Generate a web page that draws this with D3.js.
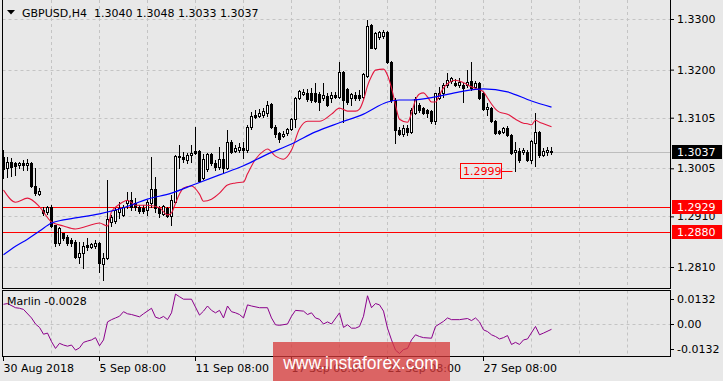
<!DOCTYPE html>
<html>
<head>
<meta charset="utf-8">
<script src="https://cdn.jsdelivr.net/npm/d3@7"></script>
<style>
  body { margin: 0; background: #e8e8e8; }
  svg { display: block; font-family: "DejaVu Sans", sans-serif; font-size: 11px; }
</style>
</head>
<body>
<svg id="chart" width="723" height="381"></svg>
<script>
// GBPUSD H4 candles, one per bar (bar 0 = 30 Aug 2018 08:00)
const openP = [
  1.3027,1.3006,1.3017,1.3015,1.3012,1.3015,1.3012,1.3015,1.2970,1.2954,
  1.2923,1.2919,1.2929,1.2893,1.2857,1.2877,1.2869,1.2863,1.2859,1.2830,
  1.2838,1.2853,1.2849,1.2851,1.2857,1.2816,1.2828,1.2899,1.2901,1.2919,
  1.2913,1.2936,1.2942,1.2936,1.2929,1.2927,1.2923,1.2936,1.2964,1.2927,
  1.2915,1.2927,1.2911,1.2938,1.3029,1.3027,1.3021,1.3031,1.3039,1.3039,
  1.2986,1.3004,1.3033,1.3015,1.3008,1.3023,1.3006,1.3057,1.3039,1.3041,
  1.3045,1.3041,1.3087,1.3110,1.3108,1.3110,1.3114,1.3132,1.3087,1.3075,
  1.3069,1.3075,1.3083,1.3102,1.3144,1.3152,1.3154,1.3154,1.3154,1.3152,
  1.3144,1.3148,1.3144,1.3150,1.3146,1.3195,1.3162,1.3144,1.3150,1.3150,
  1.3146,1.3187,1.3288,1.3243,1.3264,1.3266,1.3274,1.3215,1.3140,1.3081,
  1.3073,1.3085,1.3077,1.3114,1.3130,1.3124,1.3120,1.3118,1.3098,1.3144,
  1.3154,1.3170,1.3177,1.3174,1.3170,1.3170,1.3170,1.3177,1.3166,1.3174,
  1.3154,1.3122,1.3124,1.3098,1.3079,1.3077,1.3085,1.3071,1.3037,1.3039,
  1.3037,1.3037,1.3021,1.3055,1.3077,1.3031,1.3037,1.3040
];
const highP = [
  1.3041,1.3027,1.3025,1.3017,1.3017,1.3021,1.3023,1.3017,1.3006,1.2966,
  1.2929,1.2930,1.2932,1.2893,1.2889,1.2877,1.2873,1.2867,1.2863,1.2859,
  1.2859,1.2867,1.2857,1.2863,1.2859,1.2838,1.2982,1.2913,1.2929,1.2938,
  1.2932,1.2958,1.2958,1.2946,1.2932,1.2932,1.2942,1.3027,1.2988,1.2930,
  1.2932,1.2929,1.2952,1.3031,1.3051,1.3037,1.3035,1.3051,1.3087,1.3041,
  1.3033,1.3035,1.3035,1.3021,1.3047,1.3037,1.3081,1.3061,1.3051,1.3055,
  1.3057,1.3091,1.3116,1.3120,1.3122,1.3124,1.3138,1.3134,1.3091,1.3077,
  1.3079,1.3085,1.3104,1.3146,1.3160,1.3162,1.3162,1.3164,1.3174,1.3156,
  1.3174,1.3154,1.3156,1.3156,1.3215,1.3197,1.3164,1.3154,1.3156,1.3160,
  1.3193,1.3298,1.3290,1.3274,1.3276,1.3278,1.3276,1.3217,1.3144,1.3087,
  1.3091,1.3091,1.3124,1.3146,1.3134,1.3126,1.3122,1.3120,1.3154,1.3166,
  1.3174,1.3193,1.3185,1.3181,1.3183,1.3174,1.3199,1.3215,1.3177,1.3176,
  1.3156,1.3134,1.3126,1.3100,1.3081,1.3087,1.3089,1.3073,1.3057,1.3045,
  1.3045,1.3041,1.3061,1.3114,1.3079,1.3045,1.3047,1.3048
];
const lowP = [
  1.2986,1.2988,1.2990,1.2992,1.3006,1.3002,1.3002,1.2968,1.2952,1.2952,
  1.2913,1.2915,1.2889,1.2851,1.2853,1.2863,1.2853,1.2851,1.2828,1.2818,
  1.2808,1.2844,1.2847,1.2847,1.2800,1.2784,1.2826,1.2891,1.2897,1.2907,
  1.2911,1.2927,1.2923,1.2923,1.2917,1.2917,1.2913,1.2929,1.2919,1.2909,
  1.2913,1.2909,1.2893,1.2936,1.3006,1.3017,1.3015,1.3017,1.3033,1.2978,
  1.2984,1.3000,1.3012,1.3002,1.3004,1.2996,1.3004,1.3035,1.3037,1.3037,
  1.3025,1.3037,1.3083,1.3104,1.3106,1.3106,1.3108,1.3085,1.3067,1.3057,
  1.3067,1.3071,1.3081,1.3087,1.3142,1.3150,1.3138,1.3136,1.3136,1.3120,
  1.3140,1.3128,1.3136,1.3144,1.3144,1.3096,1.3132,1.3130,1.3140,1.3140,
  1.3144,1.3185,1.3243,1.3241,1.3260,1.3262,1.3213,1.3136,1.3055,1.3071,
  1.3069,1.3071,1.3075,1.3112,1.3116,1.3112,1.3106,1.3094,1.3093,1.3142,
  1.3146,1.3166,1.3174,1.3168,1.3166,1.3136,1.3166,1.3160,1.3164,1.3142,
  1.3120,1.3110,1.3096,1.3073,1.3073,1.3075,1.3069,1.3033,1.2999,1.3017,
  1.3033,1.3019,1.3015,1.3010,1.3027,1.3029,1.3031,1.3033
];
const closeP = [
  1.3004,1.3017,1.3008,1.3010,1.3015,1.3012,1.3015,1.2970,1.2956,1.2960,
  1.2917,1.2929,1.2891,1.2857,1.2887,1.2867,1.2857,1.2857,1.2830,1.2838,
  1.2851,1.2849,1.2855,1.2857,1.2818,1.2828,1.2905,1.2909,1.2923,1.2927,
  1.2929,1.2942,1.2929,1.2929,1.2921,1.2921,1.2938,1.2964,1.2927,1.2917,
  1.2930,1.2911,1.2942,1.3029,1.3027,1.3023,1.3031,1.3035,1.3035,1.2980,
  1.3023,1.3033,1.3015,1.3008,1.3023,1.3006,1.3057,1.3037,1.3045,1.3047,
  1.3041,1.3087,1.3108,1.3106,1.3114,1.3118,1.3130,1.3087,1.3073,1.3063,
  1.3073,1.3083,1.3102,1.3144,1.3158,1.3156,1.3142,1.3140,1.3138,1.3136,
  1.3150,1.3130,1.3150,1.3146,1.3195,1.3140,1.3136,1.3152,1.3144,1.3144,
  1.3191,1.3286,1.3243,1.3272,1.3274,1.3274,1.3215,1.3140,1.3081,1.3073,
  1.3085,1.3077,1.3120,1.3142,1.3120,1.3114,1.3114,1.3098,1.3154,1.3154,
  1.3170,1.3179,1.3183,1.3170,1.3176,1.3164,1.3176,1.3164,1.3174,1.3144,
  1.3122,1.3126,1.3098,1.3075,1.3075,1.3085,1.3071,1.3035,1.3041,1.3021,
  1.3041,1.3021,1.3059,1.3077,1.3031,1.3039,1.3041,1.3037
];

// moving averages (bar index -> price)
const redBars = [0,3,6,9,12,15,18,21,24,26,27,29,31,33,36,39,41,42,43,44,45,47,49,50,52,54,56,58,60,61,
  63,65,66,68,70,72,74,76,79,82,84,86,88,89,90,91,92,93,95,96,97,98,99,101,102,103,104,105,106,107,108,
  109,110,111,113,115,117,119,120,121,122,123,124,126,128,130,131,132,133,134,135,137];
const redMA = [1.2962,1.2938,1.2946,1.2929,1.2899,1.2891,1.2885,1.2891,1.2897,1.2891,1.2919,1.2934,1.2942,1.2932,1.2932,1.2927,1.2913,1.2917,1.2936,1.2954,
  1.2966,1.2970,1.2954,1.2940,1.2944,1.2956,1.2972,1.2976,1.2978,1.2994,
  1.3023,1.3039,1.3043,1.3029,1.3023,1.3041,1.3083,1.3098,1.3098,1.3112,1.3124,1.3118,1.3118,1.3122,1.3140,1.3168,1.3187,1.3199,1.3201,1.3189,
  1.3164,1.3130,1.3102,1.3096,1.3114,1.3140,1.3152,1.3154,1.3146,1.3136,1.3136,
  1.3150,1.3164,1.3172,1.3179,1.3174,1.3166,1.3160,1.3156,1.3144,1.3132,1.3122,1.3116,1.3112,1.3102,1.3094,1.3093,1.3091,1.3100,1.3096,1.3093,1.3087];
const blueBars = [0,3,6,9,12,15,18,24,30,36,42,48,54,60,66,72,78,84,90,96,99,102,108,114,120,126,132,137];
const blueMA = [1.2834,1.2851,1.2865,1.2881,1.2897,1.2903,1.2907,1.2915,1.2927,1.2944,1.2956,1.2974,1.2992,1.3010,
  1.3033,1.3053,1.3077,1.3095,1.3112,1.3136,1.3140,1.3140,1.3146,1.3156,1.3162,1.3156,1.3138,1.3126];

// Marlin oscillator
const marlinBars = [0,1,3,4,5,7,8,9,10,11,12,13,14,15,16,17,18,19,20,21,22,23,24,25,26,27,28,29,30,31,32,34,35,37,38,39,40,41,42,43,44,45,47,
  49,50,51,52,53,54,55,56,57,58,59,60,61,62,64,66,67,68,69,71,72,73,75,76,77,78,79,80,81,82,84,85,86,87,88,89,90,
  91,92,93,94,95,96,97,98,99,100,101,102,103,104,105,107,108,110,111,112,114,116,117,118,119,120,121,122,123,124,125,
  126,127,128,129,130,131,133,134,135,137];
const marlin = [0.0104,0.0108,0.0086,0.0083,0.0077,0.0032,0.0000,-0.0018,-0.0054,-0.0048,-0.0093,-0.0129,-0.0102,-0.0111,-0.0117,-0.0111,
  -0.0138,-0.0126,-0.0097,-0.0090,-0.0084,-0.0072,-0.0115,-0.0084,0.0011,0.0023,0.0032,0.0041,0.0065,0.0054,0.0050,0.0038,0.0054,0.0083,
  0.0036,0.0029,0.0040,0.0023,0.0059,0.0158,0.0144,0.0131,0.0131,
  0.0047,0.0068,0.0095,0.0072,0.0059,0.0072,0.0032,0.0095,0.0065,0.0059,0.0050,0.0032,0.0101,0.0095,0.0086,0.0086,0.0032,-0.0004,-0.0007,
  0.0000,0.0041,0.0072,0.0068,0.0050,0.0059,0.0032,0.0025,0.0000,0.0011,0.0000,0.0059,-0.0018,-0.0004,-0.0022,-0.0022,-0.0013,0.0041,
  0.0149,0.0086,0.0108,0.0101,0.0068,-0.0022,-0.0084,-0.0138,-0.0156,-0.0135,-0.0129,-0.0084,-0.0057,-0.0066,-0.0072,-0.0075,-0.0013,
  0.0014,0.0032,0.0023,0.0023,0.0029,0.0018,0.0032,0.0011,-0.0031,-0.0040,-0.0057,-0.0066,-0.0079,-0.0072,
  -0.0061,-0.0108,-0.0097,-0.0108,-0.0084,-0.0079,-0.0013,-0.0057,-0.0048,-0.0028];

// axes / levels
const priceTicks = [1.3300, 1.3200, 1.3105, 1.3005, 1.2910, 1.2810];
const marlinTicks = [0.0132, 0, -0.0132];
const levelLines = [1.2929, 1.2880];
const lowMark = 1.2999;
const lowMarkBar = 128;
const dateBars = [0, 24, 48, 72, 96, 120];
const dateLabels = ["30 Aug 2018", "5 Sep 08:00", "11 Sep 08:00", "17 Sep 08:00", "21 Sep 08:00", "27 Sep 08:00"];

const W = 723, H = 381;
const L = 2.5, R = 670.5, mainBottom = 288.5, subTop = 290.5, subBottom = 356.5;
const bg = "#e8e8e8", gridCol = "#c4c4c4";

const svg = d3.select("#chart");
svg.append("rect").attr("width", W).attr("height", H).attr("fill", bg);

const x = d3.scaleLinear().domain([0, 137]).range([3.5, 551.5]);
const y = d3.scaleLinear().domain([1.2810, 1.3300]).range([267, 19]);
const ym = d3.scaleLinear().domain([-0.0132, 0.0132]).range([349, 299]);
const snap = v => Math.round(v) + 0.5;

// clips
svg.append("clipPath").attr("id", "mainClip").append("rect")
   .attr("x", 3).attr("y", 0).attr("width", 667).attr("height", 288);
svg.append("clipPath").attr("id", "subClip").append("rect")
   .attr("x", 3).attr("y", 291).attr("width", 667).attr("height", 65);

const main = svg.append("g").attr("clip-path", "url(#mainClip)");
const sub = svg.append("g").attr("clip-path", "url(#subClip)");

// grid
const gridBars = d3.range(12, 157, 12);
main.selectAll("line.vgrid").data(gridBars).join("line")
    .attr("x1", d => x(d)).attr("x2", d => x(d)).attr("y1", 0).attr("y2", mainBottom)
    .attr("stroke", gridCol).attr("stroke-dasharray", "3,3");
main.selectAll("line.hgrid").data(priceTicks).join("line")
    .attr("x1", L).attr("x2", R).attr("y1", d => snap(y(d))).attr("y2", d => snap(y(d)))
    .attr("stroke", gridCol).attr("stroke-dasharray", "3,3");
sub.selectAll("line.vgrid").data(gridBars).join("line")
    .attr("x1", d => x(d)).attr("x2", d => x(d)).attr("y1", subTop).attr("y2", subBottom)
    .attr("stroke", gridCol).attr("stroke-dasharray", "3,3");
sub.append("line").attr("x1", L).attr("x2", R)
    .attr("y1", snap(ym(0))).attr("y2", snap(ym(0)))
    .attr("stroke", gridCol).attr("stroke-dasharray", "3,3");

// current price line
const last = closeP.length - 1;
main.append("line").attr("x1", L).attr("x2", R)
    .attr("y1", snap(y(closeP[last]))).attr("y2", snap(y(closeP[last])))
    .attr("stroke", "#bdbdbd");

// horizontal levels
main.selectAll("line.level").data(levelLines).join("line")
    .attr("x1", L).attr("x2", R).attr("y1", d => snap(y(d))).attr("y2", d => snap(y(d)))
    .attr("stroke", "#ff0000");

// candles
const bars = openP.map((o, i) => ({ i, o, h: highP[i], l: lowP[i], c: closeP[i] }));
const cg = main.append("g").attr("shape-rendering", "crispEdges");
cg.selectAll("line.wick").data(bars).join("line")
  .attr("x1", d => x(d.i)).attr("x2", d => x(d.i))
  .attr("y1", d => Math.round(y(d.h))).attr("y2", d => Math.round(y(d.l)) + 1)
  .attr("stroke", "#000");
cg.selectAll("rect.body").data(bars).join("rect")
  .attr("x", d => d.c >= d.o ? x(d.i) - 1 : x(d.i) - 1.5)
  .attr("y", d => {
    const t = Math.round(y(Math.max(d.o, d.c)));
    return d.c >= d.o ? t + 0.5 : t;
  })
  .attr("width", d => d.c >= d.o ? 2 : 3)
  .attr("height", d => {
    const hgt = Math.round(y(Math.min(d.o, d.c))) - Math.round(y(Math.max(d.o, d.c)));
    return d.c >= d.o ? Math.max(0, hgt) : Math.max(1, hgt + 1);
  })
  .attr("fill", d => d.c >= d.o ? "#fff" : "#000")
  .attr("stroke", d => d.c >= d.o ? "#000" : "none");

// moving averages
const redLine = d3.line().x(d => x(d[0])).y(d => y(d[1])).curve(d3.curveMonotoneX);
main.append("path").datum(redBars.map((b, k) => [b, redMA[k]]))
    .attr("d", redLine).attr("fill", "none").attr("stroke", "#e3173e").attr("stroke-width", 1.1);
main.append("path").datum(blueBars.map((b, k) => [b, blueMA[k]]))
    .attr("d", redLine).attr("fill", "none").attr("stroke", "#0000ff").attr("stroke-width", 1.2);

// 1.2999 low marker
const lmY = snap(y(lowMark));
main.append("line").attr("x1", 501).attr("x2", x(lowMarkBar) - 3).attr("y1", lmY).attr("y2", lmY)
    .attr("stroke", "#ff0000");
main.append("rect").attr("x", 460.5).attr("y", lmY - 8).attr("width", 41).attr("height", 15)
    .attr("fill", bg).attr("stroke", "#ff0000");
main.append("text").attr("x", 463).attr("y", lmY).attr("dy", "0.35em")
    .attr("fill", "#ff0000").text(lowMark.toFixed(4));

// Marlin line
const mLine = d3.line().x(d => x(d[0])).y(d => ym(d[1]));
sub.append("path").datum(marlinBars.map((b, k) => [b, marlin[k]]))
   .attr("d", mLine).attr("fill", "none").attr("stroke", "#8b008b").attr("stroke-width", 1);

// panel borders
const border = svg.append("g").attr("fill", "none").attr("stroke", "#000").attr("shape-rendering", "crispEdges");
border.append("path").attr("d", `M${L},0 V${mainBottom} H${R} V0`);
border.append("rect").attr("x", L).attr("y", subTop).attr("width", R - L).attr("height", subBottom - subTop);

// price axis
const yAxis = svg.append("g").attr("transform", `translate(${R - 0.5},0)`)
  .call(d3.axisRight(y).tickValues(priceTicks).tickSize(4).tickSizeOuter(0).tickFormat(d => d.toFixed(4)));
yAxis.select(".domain").remove();
yAxis.selectAll("text").attr("fill", "#000").style("font-size", "11px").style("font-family", "DejaVu Sans");
yAxis.selectAll("line").attr("stroke", "#000");

// marlin axis
const mAxis = svg.append("g").attr("transform", `translate(${R - 0.5},0)`)
  .call(d3.axisRight(ym).tickValues(marlinTicks).tickSize(4).tickSizeOuter(0)
    .tickFormat(d => d === 0 ? "0.00" : d.toFixed(4)));
mAxis.select(".domain").remove();
mAxis.selectAll("text").attr("fill", "#000").style("font-size", "11px").style("font-family", "DejaVu Sans");
mAxis.selectAll("line").attr("stroke", "#000");

// time axis
const tAxis = svg.append("g").attr("transform", `translate(0,${subBottom - 0.5})`)
  .call(d3.axisBottom(x).tickValues(dateBars).tickSize(5).tickSizeOuter(0).offset(0)
    .tickFormat((d, k) => dateLabels[k]));
tAxis.select(".domain").remove();
tAxis.selectAll("text").attr("fill", "#000").attr("text-anchor", "start").attr("x", 0)
     .style("font-size", "11px").style("font-family", "DejaVu Sans");
tAxis.selectAll("line").attr("stroke", "#000");

// right-side price labels
function priceTag(v, fill) {
  const cy = Math.round(y(v));
  svg.append("rect").attr("x", 672).attr("y", cy - 7).attr("width", 50).attr("height", 14).attr("fill", fill);
  svg.append("text").attr("x", 677).attr("y", cy).attr("dy", "0.36em").attr("fill", "#fff").text(v.toFixed(4));
}
levelLines.forEach(v => priceTag(v, "#ff0000"));
priceTag(closeP[last], "#000");

// titles
svg.append("path").attr("d", "M7,10 H15 L11,14.5 Z").attr("fill", "#000");
svg.append("text").attr("x", 22).attr("y", 17).attr("fill", "#000").text("GBPUSD,H4");
svg.append("text").attr("x", 94).attr("y", 17).attr("fill", "#000")
   .text([openP[last], highP[last], lowP[last], closeP[last]].map(v => v.toFixed(4)).join(" "));
svg.append("text").attr("x", 7).attr("y", 305).attr("fill", "#000")
   .text("Marlin " + marlin[marlin.length - 1].toFixed(4));

// watermark
svg.append("rect").attr("x", 273).attr("y", 342).attr("width", 177).attr("height", 39)
   .attr("fill", "rgb(214,58,58)").attr("fill-opacity", 0.76);
svg.append("text").attr("x", 361).attr("y", 369).attr("text-anchor", "middle")
   .attr("fill", "#fff").style("font-family", "Liberation Sans, Arial, sans-serif").style("font-size", "17.5px")
   .text("www.instaforex.com");
</script>
</body>
</html>
